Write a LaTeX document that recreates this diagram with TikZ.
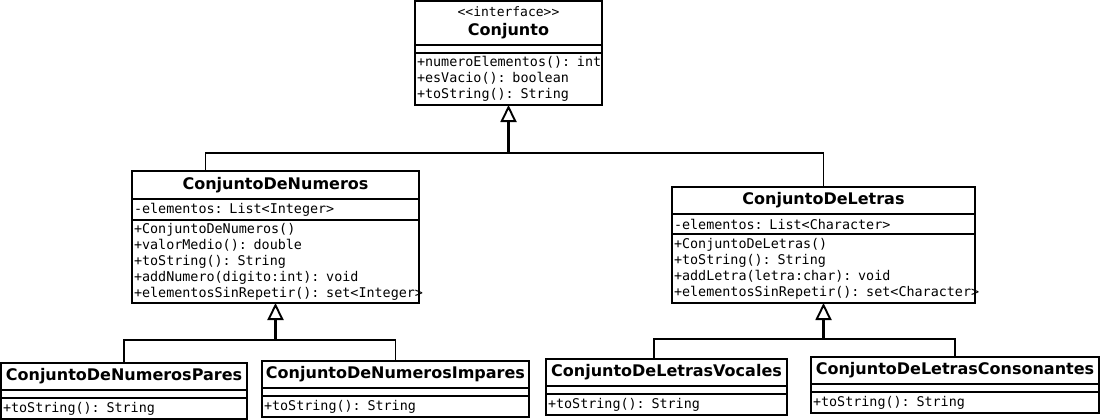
\documentclass[tikz,border=0pt]{standalone}
\usepackage{fontspec}
\setmainfont{DejaVu Sans}
\setmonofont{DejaVu Sans Mono}
\usetikzlibrary{positioning,arrows.meta}

\begin{document}
\begin{tikzpicture}[
      x=1pt, y=-1pt,
      line width=1.9pt,
      every node/.style={draw,outer sep=0pt,inner sep=0pt},
      classname/.style={font=\bfseries\fontsize{16}{18}\selectfont,anchor=north west},
      members/.style={text width=#1,inner xsep=2pt,align=left,
        font=\ttfamily\fontsize{13.4}{16}\selectfont},
      generalization/.style={{Triangle[length=17pt,width=16pt,fill=white,line width=1.9pt]}-,line width=2.2pt},
      ]
      \useasboundingbox (0,0) rectangle (1100,420);
      % interface
      \node[classname,minimum width=187pt,minimum height=44pt,align=center] (conjunto) at (415,1)
        {{\mdseries\ttfamily\fontsize{13}{14}\selectfont {<}{<}interface{>}{>}}\\[1pt]Conjunto};
      \node[members=183pt,minimum height=8pt,below=0pt of conjunto] (conjuntoAttr) {};
      \node[members=183pt,minimum height=52pt,below=0pt of conjuntoAttr] (conjuntoOps)
        {\mbox{+numeroElementos(): int}\\+esVacio(): boolean\\+toString(): String};
      % numbers
      \node[classname,minimum width=287pt,minimum height=28pt] (numeros) at (132,171) {ConjuntoDeNumeros};
      \node[members=283pt,minimum height=21pt,below=0pt of numeros] (numerosAttr)
        {-elementos: List<Integer>};
      \node[members=283pt,minimum height=83pt,below=0pt of numerosAttr] (numerosOps)
        {+ConjuntoDeNumeros()\\+valorMedio(): double\\+toString(): String\\
         +addNumero(digito:int): void\\\mbox{+elementosSinRepetir(): set<Integer>}};
      % letters
      \node[classname,minimum width=303pt,minimum height=27pt] (letras) at (672,187) {ConjuntoDeLetras};
      \node[members=299pt,minimum height=20pt,below=0pt of letras] (letrasAttr)
        {-elementos: List<Character>};
      \node[members=299pt,minimum height=69pt,below=0pt of letrasAttr] (letrasOps)
        {+ConjuntoDeLetras()\\+toString(): String\\+addLetra(letra:char): void\\
         \mbox{+elementosSinRepetir(): set<Character>}};
      % subclasses
      \node[classname,minimum width=246pt,minimum height=27pt] (pares) at (1,363) {ConjuntoDeNumerosPares};
      \node[members=242pt,minimum height=8pt,below=0pt of pares] (paresAttr) {};
      \node[members=242pt,minimum height=21pt,below=0pt of paresAttr] (paresOps) {+toString(): String};
      \node[classname,minimum width=267pt,minimum height=27pt] (impares) at (262,361) {ConjuntoDeNumerosImpares};
      \node[members=263pt,minimum height=8pt,below=0pt of impares] (imparesAttr) {};
      \node[members=263pt,minimum height=21pt,below=0pt of imparesAttr] (imparesOps) {+toString(): String};
      \node[classname,minimum width=241pt,minimum height=27pt] (vocales) at (546,359) {ConjuntoDeLetrasVocales};
      \node[members=237pt,minimum height=8pt,below=0pt of vocales] (vocalesAttr) {};
      \node[members=237pt,minimum height=21pt,below=0pt of vocalesAttr] (vocalesOps) {+toString(): String};
      \node[classname,minimum width=288pt,minimum height=27pt] (consonantes) at (811,357) {ConjuntoDeLetrasConsonantes};
      \node[members=284pt,minimum height=8pt,below=0pt of consonantes] (consonantesAttr) {};
      \node[members=284pt,minimum height=21pt,below=0pt of consonantesAttr] (consonantesOps) {+toString(): String};
      % inheritance
      \coordinate[below=48pt of conjuntoOps.south] (forkConjunto);
      \coordinate[below=37pt of numerosOps.south] (forkNumeros);
      \coordinate[below=36pt of letrasOps.south] (forkLetras);
      \draw[generalization] (conjuntoOps) -- (forkConjunto);
      \draw ([xshift=-70pt]numeros.north) |- (forkConjunto) -| (letras);
      \draw[generalization] (numerosOps) -- (forkNumeros);
      \draw (pares) |- (forkNumeros) -| (impares);
      \draw[generalization] (letrasOps) -- (forkLetras);
      \draw ([xshift=-12.5pt]vocales.north) |- (forkLetras) -| (consonantes);
    \end{tikzpicture}
\end{document}
